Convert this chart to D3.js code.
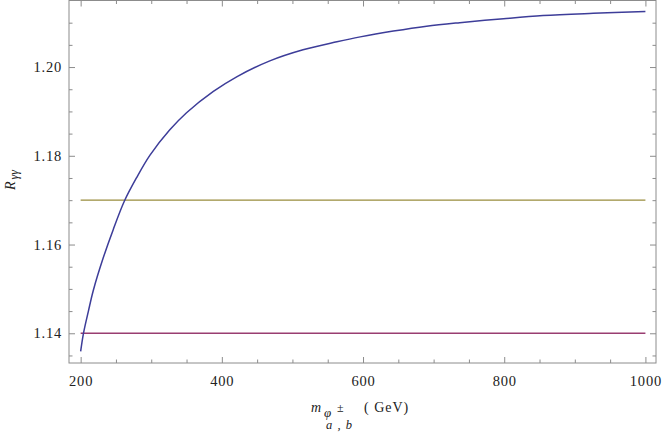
<!DOCTYPE html>
<html>
<head>
<meta charset="utf-8">
<script src="https://cdn.jsdelivr.net/npm/d3@7"></script>
<style>
  body { margin: 0; background: #fff; }
  svg { display: block; }
</style>
</head>
<body>
<div id="chart"></div>
<script>
var W = 664, H = 435;

// Data
var mass = [200, 204, 211, 218, 232, 246, 262, 279, 298, 326, 350, 388, 421, 468, 515, 563, 596, 643, 690, 737, 799, 855, 926, 1000];
var rgg  = [1.1359, 1.1400, 1.1450, 1.1497, 1.1570, 1.1633, 1.1698, 1.1750, 1.1801, 1.1858, 1.1897, 1.1945, 1.1978, 1.2014, 1.2039, 1.2057, 1.2068, 1.2081, 1.2092, 1.2100, 1.2109, 1.2116, 1.2121, 1.2125];
var upperBound = 1.17;
var lowerBound = 1.14;
var xMajor = [200, 400, 600, 800, 1000];
var xMinor = [250, 300, 350, 450, 500, 550, 650, 700, 750, 850, 900, 950];
var yMajor = [1.14, 1.16, 1.18, 1.20];
var yMinor = [1.135, 1.145, 1.15, 1.155, 1.165, 1.17, 1.175, 1.185, 1.19, 1.195, 1.205, 1.21];

var pLeft = 69, pRight = 656, pTop = 0.5, pBottom = 363;
var serif = "'Liberation Serif', 'Times New Roman', Times, serif";

var x = d3.scaleLinear().domain([183.5, 1015]).range([pLeft, pRight]);
var y = d3.scaleLinear().domain([1.1333, 1.2150]).range([pBottom, pTop]);

var svg = d3.select("#chart").append("svg")
  .attr("width", W)
  .attr("height", H);

var frameColor = "#8c8c8c";

// lines
var line = d3.line()
  .x(function(d) { return x(d[0]); })
  .y(function(d) { return y(d[1]); })
  .curve(d3.curveCatmullRom.alpha(0.5));

var plot = svg.append("g");

plot.append("path")
  .datum([[200, lowerBound], [1000, lowerBound]])
  .attr("d", line)
  .attr("fill", "none")
  .attr("stroke", "#993d71")
  .attr("stroke-width", 1.4);

plot.append("path")
  .datum([[200, upperBound], [1000, upperBound]])
  .attr("d", line)
  .attr("fill", "none")
  .attr("stroke", "#998c3d")
  .attr("stroke-width", 1.4);

plot.append("path")
  .datum(d3.zip(mass, rgg))
  .attr("d", line)
  .attr("fill", "none")
  .attr("stroke", "#3d3d99")
  .attr("stroke-width", 1.5);

// axes with inward ticks
function styleAxis(g) {
  g.select(".domain").remove();
  g.attr("font-family", serif);
  g.selectAll(".tick line").attr("stroke", frameColor);
  g.selectAll(".tick text")
    .attr("fill", "#222")
    .attr("font-family", serif)
    .attr("font-size", "14.5px")
    .attr("letter-spacing", "0.8px");
}

svg.append("g").attr("transform", "translate(0," + pBottom + ")")
  .call(d3.axisBottom(x).tickValues(xMajor).tickSize(-6).tickPadding(13).tickFormat(d3.format("d")))
  .call(styleAxis);
svg.append("g").attr("transform", "translate(0," + pBottom + ")")
  .call(d3.axisBottom(x).tickValues(xMinor).tickSize(-3.5).tickFormat(""))
  .call(styleAxis);
svg.append("g").attr("transform", "translate(0," + pTop + ")")
  .call(d3.axisTop(x).tickValues(xMajor).tickSize(-6).tickFormat(""))
  .call(styleAxis);
svg.append("g").attr("transform", "translate(0," + pTop + ")")
  .call(d3.axisTop(x).tickValues(xMinor).tickSize(-3.5).tickFormat(""))
  .call(styleAxis);

svg.append("g").attr("transform", "translate(" + pLeft + ",0)")
  .call(d3.axisLeft(y).tickValues(yMajor).tickSize(-6).tickPadding(7).tickFormat(d3.format(".2f")))
  .call(styleAxis);
svg.append("g").attr("transform", "translate(" + pLeft + ",0)")
  .call(d3.axisLeft(y).tickValues(yMinor).tickSize(-3.5).tickFormat(""))
  .call(styleAxis);
svg.append("g").attr("transform", "translate(" + pRight + ",0)")
  .call(d3.axisRight(y).tickValues(yMajor).tickSize(-6).tickFormat(""))
  .call(styleAxis);
svg.append("g").attr("transform", "translate(" + pRight + ",0)")
  .call(d3.axisRight(y).tickValues(yMinor).tickSize(-3.5).tickFormat(""))
  .call(styleAxis);

// frame
svg.append("rect")
  .attr("x", pLeft)
  .attr("y", pTop)
  .attr("width", pRight - pLeft)
  .attr("height", pBottom - pTop)
  .attr("fill", "none")
  .attr("stroke", frameColor)
  .attr("stroke-width", 1);

// x label: m_{phi^{+-}_{a,b}} ( GeV)
var xl = svg.append("g").attr("font-family", serif).attr("fill", "#222");
xl.append("text").attr("x", 311).attr("y", 412).attr("font-size", "14px").attr("font-style", "italic").text("m");
xl.append("text").attr("x", 324).attr("y", 417).attr("font-size", "13px").attr("font-style", "italic").text("\u03c6");
xl.append("text").attr("x", 337).attr("y", 412).attr("font-size", "12px").text("\u00b1");
xl.append("text").attr("x", 326).attr("y", 429).attr("font-size", "12.5px").attr("font-style", "italic").attr("letter-spacing", "1px").text("a , b");
xl.append("text").attr("x", 364).attr("y", 412).attr("font-size", "14px").attr("letter-spacing", "1px").text("( GeV)");

// y label: R_{gamma gamma}
var yl = svg.append("text")
  .attr("transform", "translate(15,180) rotate(-90)")
  .attr("font-family", serif)
  .attr("font-size", "14px")
  .attr("fill", "#222")
  .attr("text-anchor", "middle");
yl.append("tspan").attr("font-style", "italic").text("R");
yl.append("tspan").attr("font-style", "italic").attr("font-size", "12px").attr("dx", 2).attr("dy", 3).text("\u03b3\u03b3");
</script>
</body>
</html>
